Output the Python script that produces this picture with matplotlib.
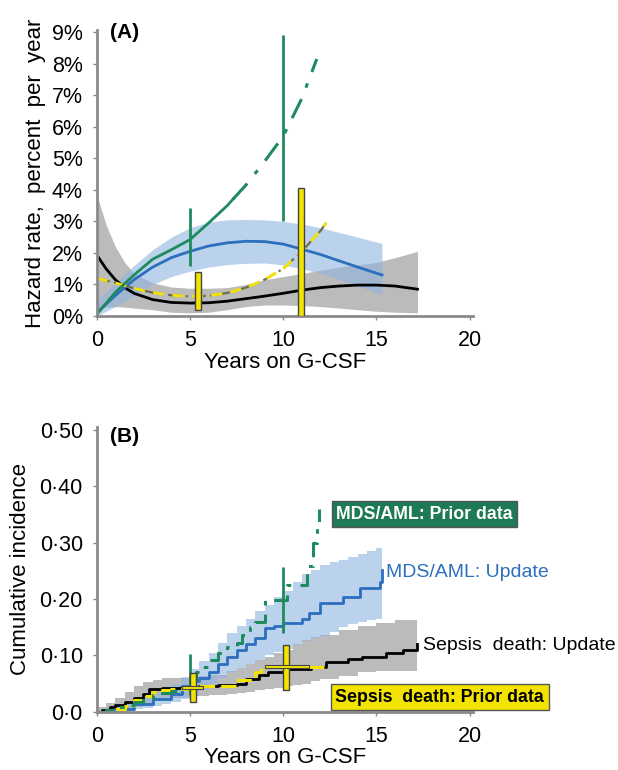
import matplotlib
matplotlib.use('Agg')
import matplotlib.pyplot as plt
from matplotlib.ticker import FuncFormatter

plt.rcParams['font.family'] = ['Liberation Sans', 'DejaVu Sans']

GREEN = '#1f8a5e'
BLUE = '#2b6fbd'
YELLOW = '#f2e400'
AXGREY = '#8a8a8a'

# ---------------- Panel A: hazard rate, percent per year ----------------
# sepsis death, update (black) + grey band
sep_x = [0, 0.5, 1, 1.5, 2, 3, 4, 5, 6, 7, 8, 9, 10, 11, 12, 13, 14, 15, 16, 17.2]
sep_y = [1.94, 1.5, 1.15, 0.9, 0.72, 0.52, 0.43, 0.41, 0.42, 0.47, 0.55, 0.63,
         0.72, 0.82, 0.9, 0.95, 0.98, 0.98, 0.95, 0.85]
sep_lo = [0.25, 0.28, 0.3, 0.28, 0.25, 0.2, 0.12, 0.1, 0.12, 0.2, 0.3, 0.35,
          0.35, 0.33, 0.3, 0.25, 0.2, 0.15, 0.12, 0.1]
sep_hi = [3.85, 2.9, 2.2, 1.7, 1.35, 1.05, 0.92, 0.88, 0.88, 0.9, 1.0, 1.15,
          1.25, 1.35, 1.45, 1.55, 1.62, 1.7, 1.85, 2.05]

# MDS/AML, update (blue) + blue band
mds_x = [0, 1, 2, 3, 4, 5, 6, 7, 8, 9, 10, 11, 12, 13, 14, 15.3]
mds_y = [0.1, 0.65, 1.15, 1.55, 1.85, 2.05, 2.22, 2.32, 2.37, 2.36, 2.28, 2.12,
         1.95, 1.75, 1.55, 1.3]
mds_lo = [0.0, 0.3, 0.65, 1.0, 1.25, 1.42, 1.55, 1.63, 1.67, 1.68, 1.62, 1.5,
          1.35, 1.15, 0.95, 0.68]
mds_hi = [0.5, 1.05, 1.6, 2.1, 2.5, 2.8, 2.98, 3.05, 3.06, 3.05, 3.0, 2.92,
          2.8, 2.65, 2.5, 2.3]

# MDS/AML, prior data (green): solid part then dash-dot part
mdsp_x = [0, 1, 2, 3, 4, 5, 6, 7, 7.3]
mdsp_y = [0.05, 0.75, 1.3, 1.8, 2.1, 2.42, 2.95, 3.5, 3.7]
mdsp2_x = [7.3, 8, 9, 10, 11, 11.8]
mdsp2_y = [3.7, 4.15, 4.9, 5.7, 6.9, 8.15]
mdsp_err_x = [5, 10]
mdsp_err_lo = [1.57, 3.0]
mdsp_err_hi = [3.42, 8.92]

# sepsis death, prior data (yellow dashed)
sepp_x = [0, 1, 2, 3, 4, 5, 6, 7, 8, 9, 10, 11, 12, 12.3]
sepp_y = [1.2, 1.05, 0.88, 0.74, 0.66, 0.62, 0.64, 0.73, 0.9, 1.15, 1.5,
          2.05, 2.7, 2.95]
sepp_bar_x = [5.45, 10.97]
sepp_bar_lo = [0.2, 0.0]
sepp_bar_hi = [1.4, 4.05]

# ---------------- Panel B: cumulative incidence ----------------
cmds_x = [0, 1, 2, 3, 4, 4.6, 5, 5.5, 6, 6.5, 7, 7.5, 8, 8.5, 9, 9.5, 10,
          11, 11.4, 12, 13.2, 14.1, 15.2, 15.3]
cmds_y = [0, 0.005, 0.013, 0.022, 0.032, 0.045, 0.055, 0.06, 0.07, 0.085,
          0.098, 0.11, 0.12, 0.13, 0.148, 0.152, 0.158, 0.165, 0.175, 0.193,
          0.204, 0.219, 0.231, 0.252]
cmds_band_x = [0, 0.5, 1, 1.5, 2, 2.5, 3, 3.5, 4, 4.5, 5, 5.5, 6, 6.5, 7,
               7.5, 8, 8.5, 9, 9.5, 10, 10.5, 11, 11.5, 12, 12.5, 13, 13.5,
               14, 14.5, 15, 15.3]
cmds_lo = [0, 0, 0, 0.002, 0.005, 0.007, 0.01, 0.014, 0.018, 0.022, 0.028,
           0.038, 0.05, 0.06, 0.07, 0.078, 0.085, 0.092, 0.1, 0.106, 0.112,
           0.118, 0.125, 0.13, 0.135, 0.142, 0.15, 0.155, 0.16, 0.163, 0.165,
           0.169]
cmds_hi = [0.005, 0.008, 0.012, 0.017, 0.022, 0.028, 0.035, 0.042, 0.05,
           0.062, 0.075, 0.09, 0.105, 0.122, 0.14, 0.152, 0.165, 0.178, 0.19,
           0.203, 0.215, 0.23, 0.245, 0.252, 0.26, 0.265, 0.27, 0.275, 0.28,
           0.285, 0.29, 0.31]

cmdsp_x = [0, 0.5, 1, 1.5, 2, 2.5, 3, 3.5, 4, 4.5, 5, 5.3, 5.7, 6, 6.5, 7,
           7.5, 7.8, 8.2, 8.5, 9, 10.2, 11.3, 11.6, 11.8, 11.9]
cmdsp_y = [0, 0.003, 0.008, 0.012, 0.018, 0.024, 0.03, 0.034, 0.037, 0.042,
           0.056, 0.07, 0.08, 0.092, 0.105, 0.115, 0.122, 0.137, 0.15, 0.16,
           0.198, 0.225, 0.258, 0.3, 0.33, 0.36]
cmdsp_err_x = [5, 10]
cmdsp_err_lo = [0.03, 0.14]
cmdsp_err_hi = [0.103, 0.257]

csep_x = [0, 0.3, 0.7, 1, 1.5, 2, 2.5, 2.8, 3.5, 4.5, 5.5, 6.5, 7.5, 8, 8.7,
          9.2, 10.2, 11.5, 12.3, 13.5, 14.2, 15.5, 16.4, 17.2]
csep_y = [0, 0.003, 0.008, 0.012, 0.017, 0.025, 0.032, 0.04, 0.042, 0.044,
          0.046, 0.047, 0.05, 0.058, 0.065, 0.071, 0.076, 0.08, 0.089, 0.094,
          0.098, 0.104, 0.11, 0.121]
csep_band_x = [0, 0.5, 1, 1.5, 2, 2.5, 3, 3.5, 4, 5, 6, 7, 7.5, 8, 8.5, 9,
               9.5, 10, 10.5, 11, 11.5, 12, 13, 14, 15, 16, 17.2]
csep_lo = [0, 0, 0, 0.003, 0.008, 0.014, 0.02, 0.023, 0.025, 0.027, 0.029,
           0.031, 0.033, 0.035, 0.038, 0.04, 0.042, 0.045, 0.048, 0.05, 0.054,
           0.058, 0.063, 0.07, 0.072, 0.073, 0.075]
csep_hi = [0.008, 0.016, 0.025, 0.035, 0.045, 0.052, 0.057, 0.059, 0.06,
           0.063, 0.066, 0.072, 0.078, 0.085, 0.092, 0.098, 0.104, 0.11,
           0.12, 0.128, 0.133, 0.137, 0.145, 0.152, 0.157, 0.163, 0.17]

csepp_x = [0, 0.5, 1, 1.5, 2, 2.5, 3, 3.5, 4, 5, 5.3, 7.6, 8.5, 8.8, 12.3]
csepp_y = [0, 0.002, 0.005, 0.01, 0.02, 0.028, 0.035, 0.038, 0.04, 0.042,
           0.045, 0.056, 0.07, 0.08, 0.08]
csepp_vbar_x = [5.15, 10.15]
csepp_vbar_lo = [0.018, 0.038]
csepp_vbar_hi = [0.068, 0.118]
csepp_hbar_y = [0.043, 0.08]
csepp_hbar_lo = [4.6, 9.0]
csepp_hbar_hi = [5.7, 11.4]

xticks = [0, 5, 10, 15, 20]


def style_axis(ax):
    for s in ['top', 'right']:
        ax.spines[s].set_visible(False)
    for s in ['left', 'bottom']:
        ax.spines[s].set_color(AXGREY)
        ax.spines[s].set_linewidth(2)
    ax.tick_params(direction='out', length=3, width=1, color=AXGREY,
                   labelsize=15.5, pad=7)
    ax.set_xticks(xticks)
    ax.set_xlim(0, 20.2)


fig = plt.figure(figsize=(6.18, 7.70), dpi=100)
W, H = 618.0, 770.0

# ---------- (A) ----------
axA = fig.add_axes([96.7 / W, 1 - 316 / H, 376.7 / W, 286 / H])
style_axis(axA)
axA.set_ylim(0, 9.07)
axA.set_yticks(range(10))
axA.yaxis.set_major_formatter(FuncFormatter(lambda v, p: f'{int(v)}%'))

axA.fill_between(sep_x, sep_lo, sep_hi, color='#8e8e8e', alpha=0.6, lw=0)
axA.fill_between(mds_x, mds_lo, mds_hi, color='#8fb4e0', alpha=0.6, lw=0)
axA.plot(sep_x, sep_y, color='black', lw=2)
axA.plot(mds_x, mds_y, color=BLUE, lw=2)
axA.plot(sepp_x, sepp_y, color='#6d6d55', lw=1.6, ls=(0, (6, 2, 1, 2)))
axA.plot(sepp_x, sepp_y, color=YELLOW, lw=2, ls=(0, (4, 3)))
axA.plot(mdsp_x, mdsp_y, color=GREEN, lw=2)
axA.plot(mdsp2_x, mdsp2_y, color=GREEN, lw=2.2, ls=(0, (7, 4, 1.5, 4)))
axA.vlines(mdsp_err_x, mdsp_err_lo, mdsp_err_hi, color=GREEN, lw=2)
axA.bar(sepp_bar_x, [h - l for l, h in zip(sepp_bar_lo, sepp_bar_hi)],
        bottom=sepp_bar_lo, width=0.32, color=YELLOW, edgecolor='#444',
        linewidth=1, zorder=3)

axA.set_xlabel('Years on G-CSF', fontsize=16, labelpad=1)
axA.set_ylabel('Hazard rate,  percent  per  year', fontsize=16, labelpad=4)
axA.text(0.7, 9.0, '(A)', fontsize=15, fontweight='bold', va='center')

# ---------- (B) ----------
axB = fig.add_axes([96.7 / W, 1 - 711.7 / H, 376.7 / W, 285 / H])
style_axis(axB)
axB.set_ylim(0, 0.506)
btick = [0, 0.1, 0.2, 0.3, 0.4, 0.5]
blabels = ['0·0', '0·10', '0·20', '0·30', '0·40', '0·50']
axB.set_yticks(btick)
axB.set_yticklabels(blabels)

axB.fill_between(csep_band_x, csep_lo, csep_hi, step='post',
                 color='#8e8e8e', alpha=0.6, lw=0)
axB.fill_between(cmds_band_x, cmds_lo, cmds_hi, step='post',
                 color='#8fb4e0', alpha=0.6, lw=0)
axB.step(csep_x, csep_y, where='post', color='black', lw=2)
axB.step(cmds_x, cmds_y, where='post', color=BLUE, lw=2)
axB.step(csepp_x, csepp_y, where='post', color=YELLOW, lw=2.2,
         ls=(0, (5, 2)))
axB.step(cmdsp_x, cmdsp_y, where='post', color=GREEN, lw=2.2,
         ls=(0, (6, 3, 1.5, 3)))
axB.vlines(cmdsp_err_x, cmdsp_err_lo, cmdsp_err_hi, color=GREEN, lw=2)
axB.bar(csepp_vbar_x, [h - l for l, h in zip(csepp_vbar_lo, csepp_vbar_hi)],
        bottom=csepp_vbar_lo, width=0.3, color=YELLOW, edgecolor='#444',
        linewidth=1, zorder=3)
axB.barh(csepp_hbar_y, [h - l for l, h in zip(csepp_hbar_lo, csepp_hbar_hi)],
         left=csepp_hbar_lo, height=0.005, color=YELLOW, edgecolor='#444',
         linewidth=0.8, zorder=3)

axB.set_xlabel('Years on G-CSF', fontsize=16, labelpad=0)
axB.set_ylabel('Cumulative incidence', fontsize=16, labelpad=6)
axB.text(0.7, 0.488, '(B)', fontsize=15, fontweight='bold', va='center')

axB.text(12.85, 0.351, 'MDS/AML: Prior data', fontsize=12.8, fontweight='bold',
         color='white', va='center', clip_on=False,
         bbox=dict(boxstyle='square,pad=0.25', facecolor='#1d7a55',
                   edgecolor='#555555', linewidth=1))
axB.text(15.5, 0.248, 'MDS/AML: Update', fontsize=14, color=BLUE,
         va='center', clip_on=False)
axB.text(17.5, 0.118, 'Sepsis  death: Update', fontsize=14, color='black',
         va='center', clip_on=False)
axB.text(12.8, 0.026, 'Sepsis  death: Prior data', fontsize=12.8,
         fontweight='bold', color='black', va='center', clip_on=False,
         bbox=dict(boxstyle='square,pad=0.25', facecolor=YELLOW,
                   edgecolor='#555555', linewidth=1))

fig.savefig('out.png', dpi=100)
